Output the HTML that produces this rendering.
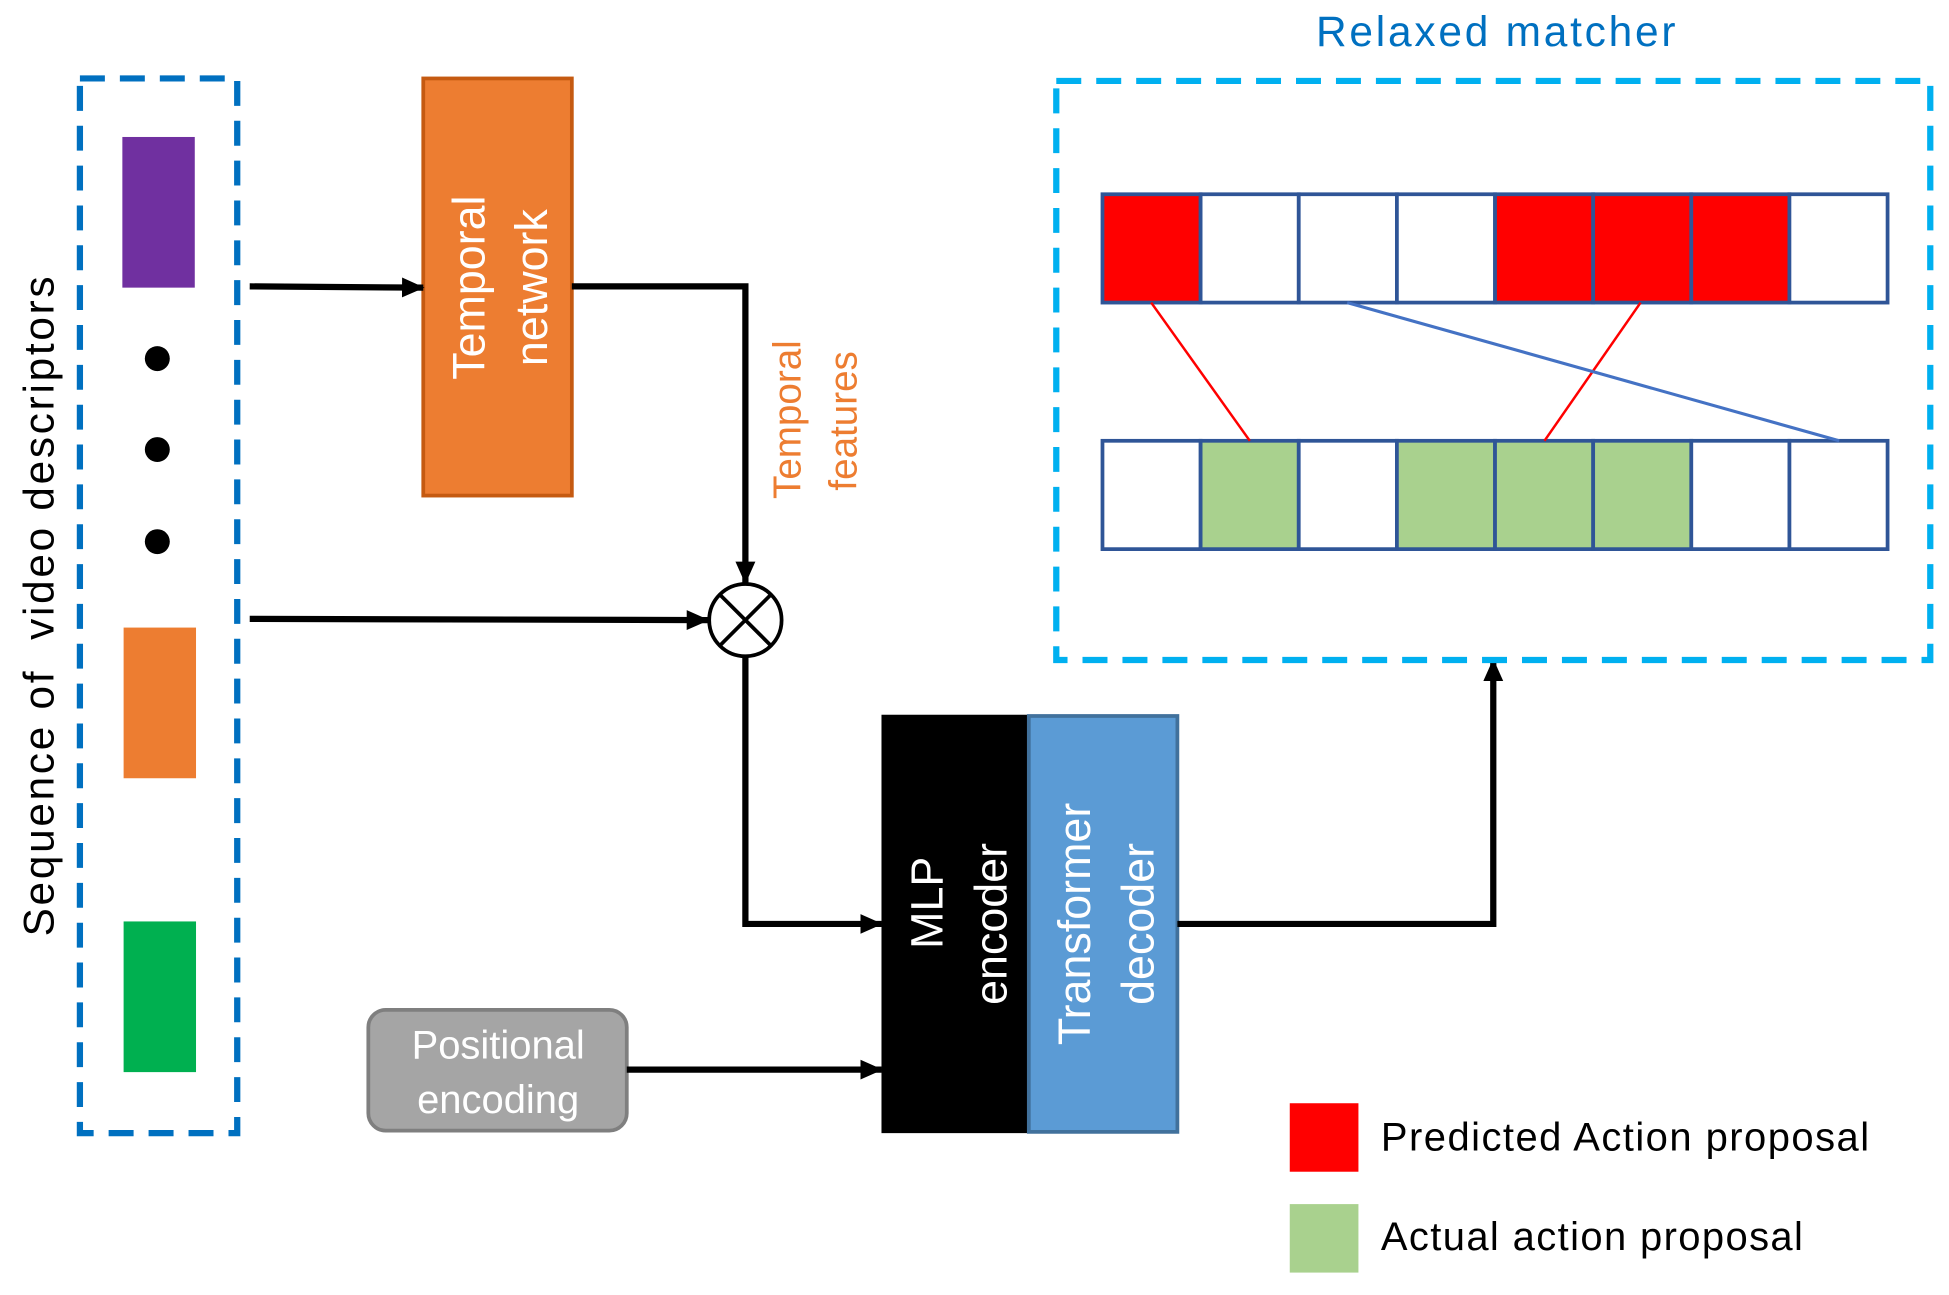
<!DOCTYPE html>
<html><head><meta charset="utf-8"><style>
html,body{margin:0;padding:0;background:#fff}
svg{display:block}
text{font-family:"Liberation Sans",sans-serif}
</style></head><body>
<svg width="1949" height="1295" viewBox="0 0 1561 1040" preserveAspectRatio="none" xmlns="http://www.w3.org/2000/svg">
<defs>
<marker id="ah2" markerWidth="18" markerHeight="16" refX="17" refY="8" orient="auto" markerUnits="userSpaceOnUse">
<path d="M0,0 L18,8 L0,16 z" fill="#000"/>
</marker>
</defs>
<rect width="1561" height="1040" fill="#fff"/>
<rect x="64" y="63" width="126" height="847" fill="none" stroke="#0070C0" stroke-width="5" stroke-dasharray="20 12"/>
<rect x="98" y="110" width="58" height="121" fill="#7030A0"/>
<circle cx="126" cy="288" r="10" fill="#000"/>
<circle cx="126" cy="361" r="10" fill="#000"/>
<circle cx="126" cy="435" r="10" fill="#000"/>
<rect x="99" y="504" width="58" height="121" fill="#ED7D31"/>
<rect x="99" y="740" width="58" height="121" fill="#00B050"/>
<text transform="translate(43,487) rotate(-90)" text-anchor="middle" font-size="34" fill="#000" textLength="530" xml:space="preserve">Sequence of  video descriptors</text>
<rect x="339" y="63" width="119" height="335" fill="#ED7D31" stroke="#C55A11" stroke-width="3"/>
<text transform="translate(388,231) rotate(-90)" text-anchor="middle" font-size="36" fill="#fff">Temporal</text>
<text transform="translate(438,231) rotate(-90)" text-anchor="middle" font-size="36" fill="#fff">network</text>
<line x1="200" y1="230" x2="339" y2="231" stroke="#000" stroke-width="5" marker-end="url(#ah2)"/>
<polyline points="458,230 597,230 597,468" fill="none" stroke="#000" stroke-width="5" marker-end="url(#ah2)"/>
<text transform="translate(641,337) rotate(-90)" text-anchor="middle" font-size="31" fill="#ED7D31">Temporal</text>
<text transform="translate(686,338) rotate(-90)" text-anchor="middle" font-size="31" fill="#ED7D31">features</text>
<circle cx="597" cy="498" r="29" fill="#fff" stroke="#000" stroke-width="3"/>
<line x1="577" y1="478" x2="617" y2="518" stroke="#000" stroke-width="3"/>
<line x1="617" y1="478" x2="577" y2="518" stroke="#000" stroke-width="3"/>
<line x1="200" y1="497" x2="567" y2="498" stroke="#000" stroke-width="5" marker-end="url(#ah2)"/>
<polyline points="597,527 597,742 706,742" fill="none" stroke="#000" stroke-width="5" marker-end="url(#ah2)"/>
<rect x="706" y="574" width="117" height="336" fill="#000"/>
<text transform="translate(755,725) rotate(-90)" text-anchor="middle" font-size="36" fill="#fff">MLP</text>
<text transform="translate(806,742) rotate(-90)" text-anchor="middle" font-size="36" fill="#fff">encoder</text>
<rect x="824" y="575" width="119" height="334" fill="#5B9BD5" stroke="#41719C" stroke-width="3"/>
<text transform="translate(873,742) rotate(-90)" text-anchor="middle" font-size="36" fill="#fff">Transformer</text>
<text transform="translate(924,742) rotate(-90)" text-anchor="middle" font-size="36" fill="#fff">decoder</text>
<rect x="295" y="811" width="207" height="97" rx="14" fill="#A5A5A5" stroke="#7F7F7F" stroke-width="3"/>
<text x="399" y="850" text-anchor="middle" font-size="32" fill="#fff">Positional</text>
<text x="399" y="894" text-anchor="middle" font-size="32" fill="#fff">encoding</text>
<line x1="502" y1="859" x2="706" y2="859" stroke="#000" stroke-width="5" marker-end="url(#ah2)"/>
<polyline points="943,742 1196,742 1196,530" fill="none" stroke="#000" stroke-width="5" marker-end="url(#ah2)"/>
<text x="1054" y="37" font-size="34" fill="#0070C0" textLength="288">Relaxed matcher</text>
<rect x="846" y="65" width="700" height="465" fill="none" stroke="#00B0F0" stroke-width="5" stroke-dasharray="20 12"/>
<g stroke="#2F5597" stroke-width="3">
<rect x="883" y="156" width="78.6" height="87" fill="#f00"/>
<rect x="961.6" y="156" width="78.6" height="87" fill="#fff"/>
<rect x="1040.2" y="156" width="78.6" height="87" fill="#fff"/>
<rect x="1118.8" y="156" width="78.6" height="87" fill="#fff"/>
<rect x="1197.4" y="156" width="78.6" height="87" fill="#f00"/>
<rect x="1276" y="156" width="78.6" height="87" fill="#f00"/>
<rect x="1354.6" y="156" width="78.6" height="87" fill="#f00"/>
<rect x="1433.2" y="156" width="78.6" height="87" fill="#fff"/>
<rect x="883" y="354" width="78.6" height="87" fill="#fff"/>
<rect x="961.6" y="354" width="78.6" height="87" fill="#A9D18E"/>
<rect x="1040.2" y="354" width="78.6" height="87" fill="#fff"/>
<rect x="1118.8" y="354" width="78.6" height="87" fill="#A9D18E"/>
<rect x="1197.4" y="354" width="78.6" height="87" fill="#A9D18E"/>
<rect x="1276" y="354" width="78.6" height="87" fill="#A9D18E"/>
<rect x="1354.6" y="354" width="78.6" height="87" fill="#fff"/>
<rect x="1433.2" y="354" width="78.6" height="87" fill="#fff"/>
</g>
<line x1="922" y1="243" x2="1001" y2="354" stroke="#f00" stroke-width="2"/>
<line x1="1314" y1="243" x2="1237" y2="354" stroke="#f00" stroke-width="2"/>
<line x1="1079" y1="243" x2="1473" y2="354" stroke="#4472C4" stroke-width="2.5"/>
<rect x="1033" y="886" width="55" height="55" fill="#f00"/>
<rect x="1033" y="967" width="55" height="55" fill="#A9D18E"/>
<text x="1106" y="924" font-size="32" fill="#000" textLength="391">Predicted Action proposal</text>
<text x="1106" y="1004" font-size="32" fill="#000" textLength="338">Actual action proposal</text>
</svg>
</body></html>
